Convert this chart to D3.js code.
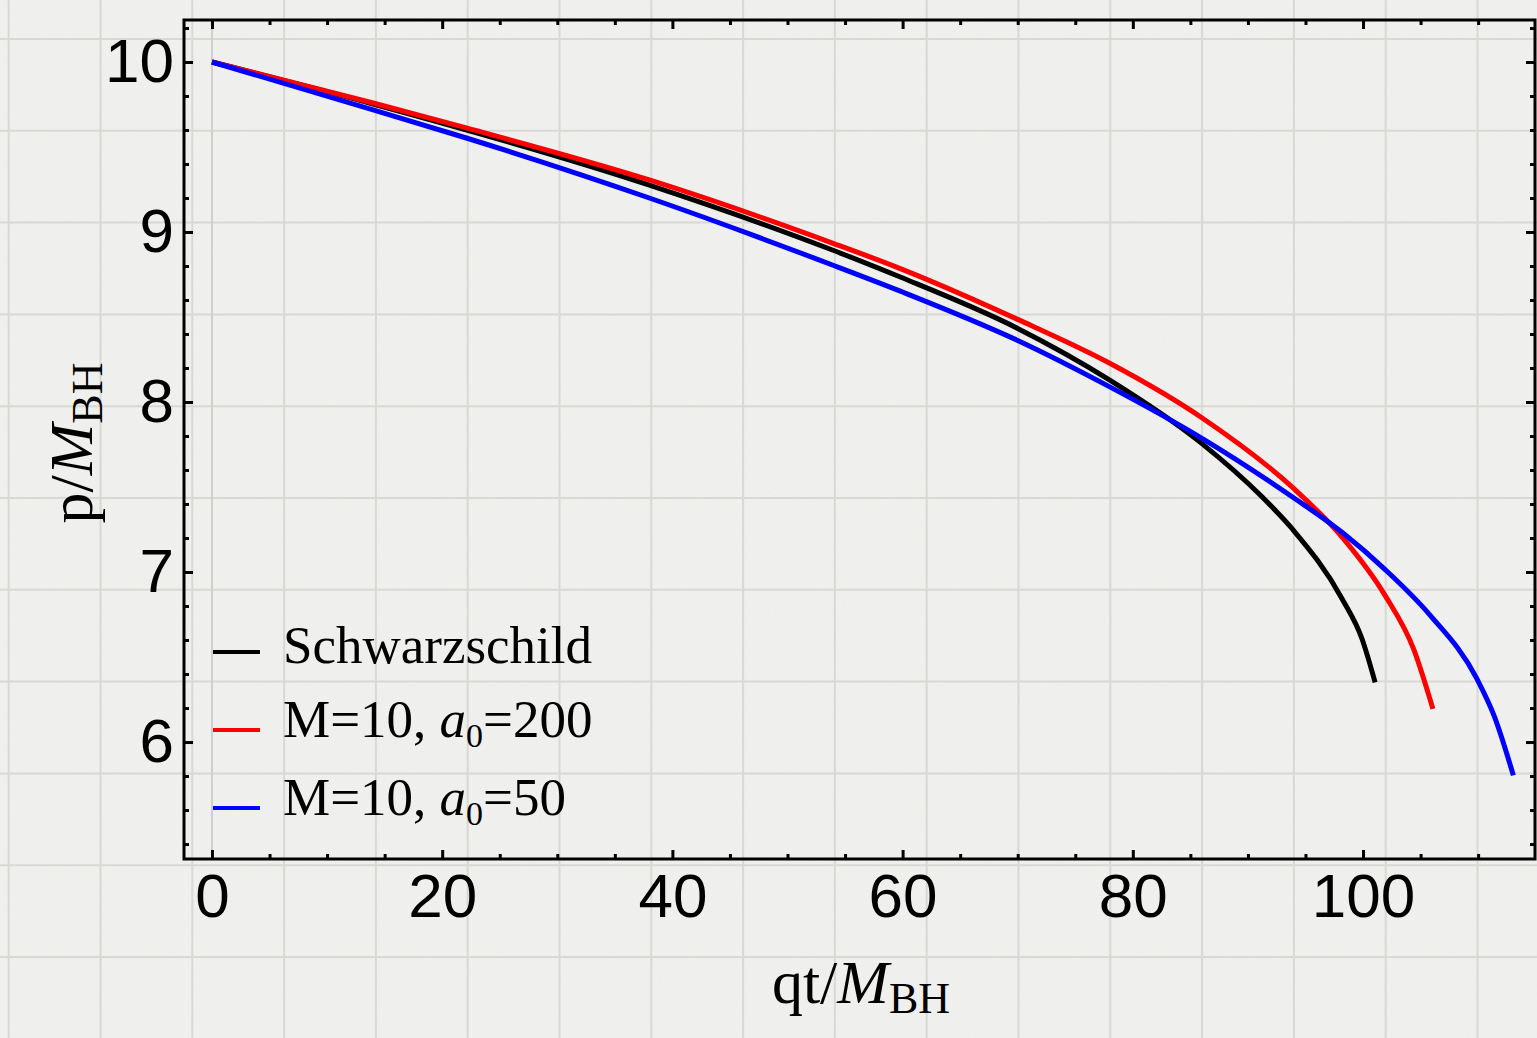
<!DOCTYPE html>
<html>
<head>
<meta charset="utf-8">
<script src="https://cdn.jsdelivr.net/npm/d3@7"></script>
<style>
  html, body { margin: 0; padding: 0; background: #efefed; overflow: hidden; }
  svg { display: block; }
  .tick text { font-family: "Liberation Sans", Arial, Helvetica, sans-serif; }
  .serif { font-family: "Liberation Serif", "Times New Roman", serif; }
</style>
</head>
<body>
<div id="chart"></div>
<script>
// values: time qt/M_BH and p/M_BH
const schwT = [0, 14, 38, 53.9, 59.8, 70, 78, 85.9, 91.2, 93.9, 98.2, 99.9, 101.05];
const schwP = [10, 9.753, 9.276, 8.894, 8.735, 8.433, 8.129, 7.761, 7.444, 7.25, 6.84, 6.609, 6.351];

const a200T = [0, 14, 22.1, 38, 53.9, 59.8, 70, 78, 85.9, 93.9, 98.2, 101.9, 104.4, 106.07];
const a200P = [10, 9.759, 9.612, 9.306, 8.935, 8.785, 8.486, 8.228, 7.912, 7.496, 7.204, 6.864, 6.546, 6.195];

const a50T = [0, 14, 22.1, 38, 53.9, 59.8, 70, 78, 85.9, 93.9, 98.2, 101.9, 105.8, 109.9, 111.4, 113.06];
const a50P = [10, 9.718, 9.553, 9.2, 8.806, 8.652, 8.362, 8.089, 7.791, 7.44, 7.232, 7.016, 6.748, 6.371, 6.152, 5.804];

const xMajor = [0, 20, 40, 60, 80, 100];
const yMajor = [6, 7, 8, 9, 10];

const series = [
  { name: "Schwarzschild", color: "#000000", t: schwT, p: schwP },
  { name: "a200", color: "#ff0000", t: a200T, p: a200P },
  { name: "a50", color: "#0000ff", t: a50T, p: a50P }
];

const W = 1537, H = 1038;
const pL = 184, pR = 1535, pT = 20, pB = 859;

const svg = d3.select("#chart").append("svg")
  .attr("width", W).attr("height", H);

// paper texture
const defs = svg.append("defs");
const f = defs.append("filter").attr("id", "paper").attr("x", 0).attr("y", 0).attr("width", "100%").attr("height", "100%");
f.append("feTurbulence").attr("type", "fractalNoise").attr("baseFrequency", 0.6).attr("numOctaves", 2).attr("seed", 3);
f.append("feColorMatrix").attr("type", "matrix")
  .attr("values", "0 0 0 0 0.55  0 0 0 0 0.55  0 0 0 0 0.53  0 0 0 0.08 0");
svg.append("rect").attr("width", W).attr("height", H).attr("fill", "#f1f1ef");
svg.append("rect").attr("width", W).attr("height", H).attr("filter", "url(#paper)");

// graph paper grid
const step = 91.8;
const grid = svg.append("g").attr("stroke", "#d8d8d5").attr("stroke-width", 2);
grid.selectAll("line.v").data(d3.range(100.5 - step, W, step)).enter().append("line")
  .attr("x1", d => d).attr("x2", d => d).attr("y1", 0).attr("y2", H);
grid.selectAll("line.h").data(d3.range(39, H, step)).enter().append("line")
  .attr("y1", d => d).attr("y2", d => d).attr("x1", 0).attr("x2", W);

const x = d3.scaleLinear().domain([-2.43, 114.94]).range([pL, pR]);
const y = d3.scaleLinear().domain([5.312, 10.247]).range([pB, pT]);

// faint line at t = 0
svg.append("line")
  .attr("x1", x(0)).attr("x2", x(0)).attr("y1", pT).attr("y2", pB)
  .attr("stroke", "#cfcfcc").attr("stroke-width", 2);

const xMinor = d3.range(0, 115, 5).filter(v => xMajor.indexOf(v) < 0);
const yMinor = d3.range(5.4, 10.21, 0.2).filter(v => yMajor.every(m => Math.abs(m - v) > 1e-6));

function styleAxis(g) {
  g.select(".domain").remove();
  g.selectAll(".tick line").attr("stroke", "#000").attr("stroke-width", 3);
  g.selectAll(".tick text").attr("fill", "#000").style("font-size", "62px");
}

// bottom
svg.append("g").attr("transform", `translate(0,${pB})`)
  .call(d3.axisBottom(x).tickValues(xMajor).tickSize(-9).tickPadding(14).tickFormat(d3.format("d")))
  .call(styleAxis);
svg.append("g").attr("transform", `translate(0,${pB})`)
  .call(d3.axisBottom(x).tickValues(xMinor).tickSize(-5).tickFormat(""))
  .call(styleAxis);
// top
svg.append("g").attr("transform", `translate(0,${pT})`)
  .call(d3.axisTop(x).tickValues(xMajor).tickSize(-9).tickFormat(""))
  .call(styleAxis);
svg.append("g").attr("transform", `translate(0,${pT})`)
  .call(d3.axisTop(x).tickValues(xMinor).tickSize(-5).tickFormat(""))
  .call(styleAxis);
// left
svg.append("g").attr("transform", `translate(${pL},0)`)
  .call(d3.axisLeft(y).tickValues(yMajor).tickSize(-9).tickPadding(10).tickFormat(d3.format("d")))
  .call(styleAxis);
svg.append("g").attr("transform", `translate(${pL},0)`)
  .call(d3.axisLeft(y).tickValues(yMinor).tickSize(-5).tickFormat(""))
  .call(styleAxis);
// right
svg.append("g").attr("transform", `translate(${pR},0)`)
  .call(d3.axisRight(y).tickValues(yMajor).tickSize(-9).tickFormat(""))
  .call(styleAxis);
svg.append("g").attr("transform", `translate(${pR},0)`)
  .call(d3.axisRight(y).tickValues(yMinor).tickSize(-5).tickFormat(""))
  .call(styleAxis);

// frame
svg.append("rect")
  .attr("x", pL).attr("y", pT).attr("width", pR - pL).attr("height", pB - pT)
  .attr("fill", "none").attr("stroke", "#000").attr("stroke-width", 3);

// curves
const line = d3.line().x(d => x(d[0])).y(d => y(d[1])).curve(d3.curveMonotoneX);
svg.append("g").selectAll("path").data(series).enter().append("path")
  .attr("d", s => line(s.t.map((t, i) => [t, s.p[i]])))
  .attr("fill", "none")
  .attr("stroke", s => s.color)
  .attr("stroke-width", 5);

// legend
const leg = svg.append("g").attr("class", "serif");
const legY = [652, 730, 808];
series.forEach((s, i) => {
  leg.append("line")
    .attr("x1", 213).attr("x2", 260).attr("y1", legY[i]).attr("y2", legY[i])
    .attr("stroke", s.color).attr("stroke-width", 4);
});
leg.append("text").attr("x", 283).attr("y", 663).style("font-size", "53px").text("Schwarzschild");
function aLabel(yy, val) {
  const t = leg.append("text").attr("x", 283).attr("y", yy).style("font-size", "53px");
  t.append("tspan").text("M=10, ");
  t.append("tspan").style("font-style", "italic").text("a");
  t.append("tspan").attr("dy", 10).style("font-size", "34px").text("0");
  t.append("tspan").attr("dy", -10).text("=" + val);
}
aLabel(737, "200");
aLabel(815, "50");

// axis titles
const xt = svg.append("text").attr("class", "serif")
  .attr("x", 861).attr("y", 1003).attr("text-anchor", "middle").style("font-size", "62px");
xt.append("tspan").text("qt/");
xt.append("tspan").style("font-style", "italic").text("M");
xt.append("tspan").attr("dy", 10).style("font-size", "44px").text("BH");

const yt = svg.append("text").attr("class", "serif")
  .attr("transform", "translate(92,443) rotate(-90)")
  .attr("text-anchor", "middle").style("font-size", "62px");
yt.append("tspan").text("p/");
yt.append("tspan").style("font-style", "italic").text("M");
yt.append("tspan").attr("dy", 10).style("font-size", "44px").text("BH");
</script>
</body>
</html>
